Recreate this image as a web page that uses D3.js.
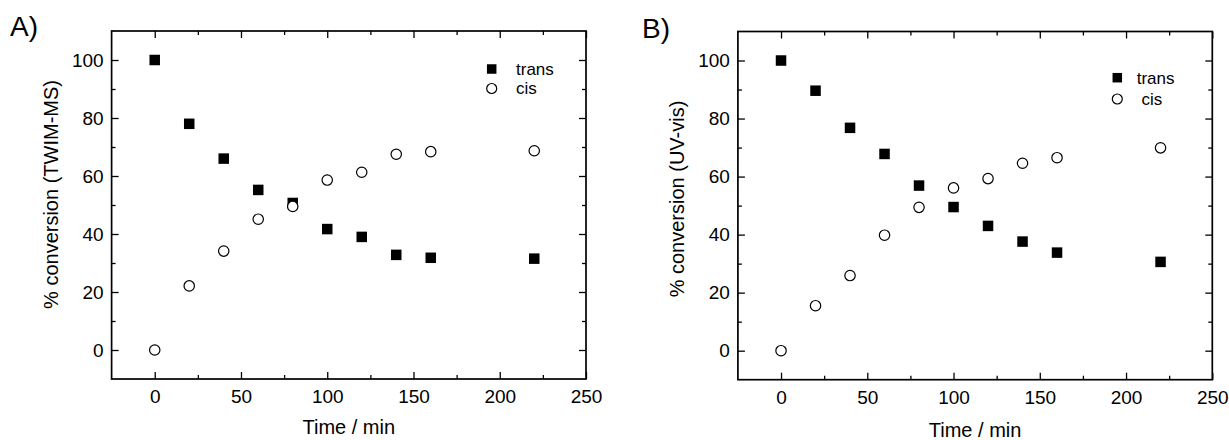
<!DOCTYPE html>
<html>
<head>
<meta charset="utf-8">
<script src="https://cdn.jsdelivr.net/npm/d3@7"></script>
<style>
  html, body { margin: 0; padding: 0; background: #fff; }
  svg { display: block; font-family: "Liberation Sans", Arial, Helvetica, sans-serif; }
</style>
</head>
<body>
<svg id="chart" width="1229" height="440"></svg>
<script>
// Sampling times (min)
const times = [0, 20, 40, 60, 80, 100, 120, 140, 160, 220];

// Panel A: conversion measured by TWIM-MS
const transA = [100, 78, 66, 55.2, 50.7, 41.7, 39, 32.8, 31.8, 31.5];
const cisA   = [0, 22.1, 34.1, 45.1, 49.5, 58.6, 61.3, 67.5, 68.4, 68.7];

// Panel B: conversion measured by UV-vis
const transB = [100, 89.6, 76.8, 67.8, 56.9, 49.5, 43, 37.6, 33.8, 30.6];
const cisB   = [0, 15.5, 25.9, 39.8, 49.4, 56.1, 59.3, 64.6, 66.5, 69.9];

// Axis ticks
const xTicks = [0, 50, 100, 150, 200, 250];
const xMinor = [-25, 25, 75, 125, 175, 225];
const yTicks = [0, 20, 40, 60, 80, 100];
const yMinor = [-10, 10, 30, 50, 70, 90, 110];

const seriesNames = ["trans", "cis"];

const panels = [
  {
    label: "A)", yTitle: "% conversion (TWIM-MS)",
    trans: transA, cis: cisA,
    left: 111.6, right: 586, top: 31, bottom: 379,
    labelX: 10, labelY: 36,
    yTitleX: 57.5, yTitleY: 194.5, xTitleY: 434,
    legendX: 491.7, legendY: 69, legendGap: 19.5, legendTextX: 516, cisPrefix: ""
  },
  {
    label: "B)", yTitle: "% conversion (UV-vis)",
    trans: transB, cis: cisB,
    left: 737.9, right: 1212.3, top: 31.5, bottom: 379.7,
    labelX: 642, labelY: 38,
    yTitleX: 684, yTitleY: 199, xTitleY: 436.5,
    legendX: 1117.3, legendY: 77.7, legendGap: 21.3, legendTextX: 1136.7, cisPrefix: "\u00a0"
  }
];

const svg = d3.select("#chart");
const SQ = 10.5;    // square marker side
const R = 5.2;      // circle marker radius

panels.forEach(p => {
  const x = d3.scaleLinear().domain([-25, 250]).range([p.left, p.right]);
  const y = d3.scaleLinear().domain([-10, 110]).range([p.bottom, p.top]);
  const g = svg.append("g");

  const styleAxis = sel => {
    sel.select(".domain").remove();
    sel.selectAll(".tick line").attr("stroke", "#000").attr("stroke-width", 1.3);
    sel.selectAll("text").attr("fill", "#000");
  };

  // Major ticks, pointing inward
  g.append("g").attr("transform", `translate(0,${p.bottom})`)
    .call(d3.axisBottom(x).tickValues(xTicks).tickSize(-7).tickPadding(11))
    .call(styleAxis)
    .selectAll("text").attr("font-size", 19);
  g.append("g").attr("transform", `translate(${p.left},0)`)
    .call(d3.axisLeft(y).tickValues(yTicks).tickSize(-7).tickPadding(8))
    .call(styleAxis)
    .selectAll("text").attr("font-size", 19);
  g.append("g").attr("transform", `translate(0,${p.top})`)
    .call(d3.axisTop(x).tickValues(xTicks).tickSize(-7).tickFormat(""))
    .call(styleAxis);
  g.append("g").attr("transform", `translate(${p.right},0)`)
    .call(d3.axisRight(y).tickValues(yTicks).tickSize(-7).tickFormat(""))
    .call(styleAxis);

  // Minor ticks
  const xm = xMinor.filter(v => v > -25 && v < 250);
  const ym = yMinor.filter(v => v > -10 && v < 110);
  g.append("g").attr("transform", `translate(0,${p.bottom})`)
    .call(d3.axisBottom(x).tickValues(xm).tickSize(-4).tickFormat("")).call(styleAxis);
  g.append("g").attr("transform", `translate(0,${p.top})`)
    .call(d3.axisTop(x).tickValues(xm).tickSize(-4).tickFormat("")).call(styleAxis);
  g.append("g").attr("transform", `translate(${p.left},0)`)
    .call(d3.axisLeft(y).tickValues(ym).tickSize(-4).tickFormat("")).call(styleAxis);
  g.append("g").attr("transform", `translate(${p.right},0)`)
    .call(d3.axisRight(y).tickValues(ym).tickSize(-4).tickFormat("")).call(styleAxis);

  // Frame
  g.append("rect")
    .attr("x", p.left).attr("y", p.top)
    .attr("width", p.right - p.left).attr("height", p.bottom - p.top)
    .attr("fill", "none").attr("stroke", "#000").attr("stroke-width", 1.7);

  // Data: trans as filled squares, cis as open circles
  const pts = times.map((t, i) => ({ t, trans: p.trans[i], cis: p.cis[i] }));
  g.append("g").selectAll("rect").data(pts).join("rect")
    .attr("x", d => x(d.t) - SQ / 2).attr("y", d => y(d.trans) - SQ / 2)
    .attr("width", SQ).attr("height", SQ).attr("fill", "#000");
  g.append("g").selectAll("circle").data(pts).join("circle")
    .attr("cx", d => x(d.t)).attr("cy", d => y(d.cis)).attr("r", R)
    .attr("fill", "#fff").attr("stroke", "#000").attr("stroke-width", 1.2);

  // Legend
  const lg = g.append("g");
  lg.append("rect")
    .attr("x", p.legendX - 4.75).attr("y", p.legendY - 4.75)
    .attr("width", 9.5).attr("height", 9.5).attr("fill", "#000");
  lg.append("circle")
    .attr("cx", p.legendX).attr("cy", p.legendY + p.legendGap).attr("r", 5)
    .attr("fill", "#fff").attr("stroke", "#000").attr("stroke-width", 1.2);
  lg.append("text").attr("x", p.legendTextX).attr("y", p.legendY).attr("dy", "0.35em")
    .attr("font-size", 17).text(seriesNames[0]);
  lg.append("text").attr("x", p.legendTextX).attr("y", p.legendY + p.legendGap).attr("dy", "0.35em")
    .attr("font-size", 17).text(p.cisPrefix + seriesNames[1]);

  // Axis titles
  g.append("text")
    .attr("x", (p.left + p.right) / 2).attr("y", p.xTitleY)
    .attr("text-anchor", "middle").attr("font-size", 20).text("Time / min");
  g.append("text")
    .attr("transform", `translate(${p.yTitleX},${p.yTitleY}) rotate(-90)`)
    .attr("text-anchor", "middle").attr("font-size", 20).text(p.yTitle);

  // Panel label
  g.append("text").attr("x", p.labelX).attr("y", p.labelY)
    .attr("font-size", 28).text(p.label);
});
</script>
</body>
</html>
